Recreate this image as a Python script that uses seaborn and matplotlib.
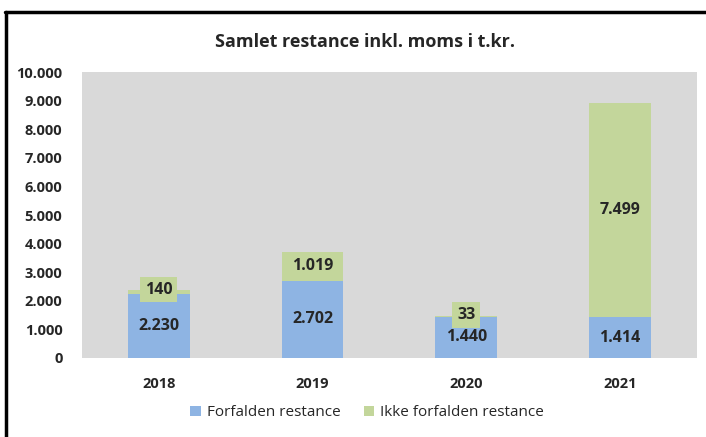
import matplotlib
matplotlib.use("Agg")
import matplotlib.pyplot as plt
import seaborn as sns
import pandas as pd
from matplotlib.lines import Line2D

# data
years = ["2018", "2019", "2020", "2021"]
forfalden = [2230, 2702, 1440, 1414]
ikke_forfalden = [140, 1019, 33, 7499]
yticks = [0, 1000, 2000, 3000, 4000, 5000, 6000, 7000, 8000, 9000, 10000]

blue = "#8eb4e3"
green = "#c3d69b"

def dk(v):
    return f"{v:,}".replace(",", ".")

sns.set_style("white")
plt.rcParams["font.family"] = ["Open Sans", "DejaVu Sans"]

df = pd.DataFrame({"year": years, "forfalden": forfalden, "ikke": ikke_forfalden})
df["total"] = df["forfalden"] + df["ikke"]

fig = plt.figure(figsize=(7.06, 4.37), dpi=100)
ax = fig.add_axes([0.116, 0.181, 0.871, 0.654])
ax.set_facecolor("#d9d9d9")

sns.barplot(data=df, x="year", y="total", color=green, width=0.4, ax=ax,
            saturation=1, edgecolor="none", label="Ikke forfalden restance")
sns.barplot(data=df, x="year", y="forfalden", color=blue, width=0.4, ax=ax,
            saturation=1, edgecolor="none", label="Forfalden restance")

# data labels
for i, r in df.iterrows():
    ax.text(i, r["forfalden"] / 2, dk(r["forfalden"]), ha="center", va="center",
            fontsize=11.5, fontweight="bold")
    if r["ikke"] > 500:
        ax.text(i, r["forfalden"] + r["ikke"] / 2, dk(r["ikke"]), ha="center",
                va="center", fontsize=11.5, fontweight="bold")
    else:
        ax.text(i, r["total"] + 20, dk(r["ikke"]), ha="center", va="center",
                fontsize=11.5, fontweight="bold",
                bbox=dict(boxstyle="square,pad=0.3", fc=green, ec="none"))

ax.set_ylim(0, 10000)
ax.set_xlim(-0.5, 3.5)
ax.set_yticks(yticks)
ax.set_yticklabels([dk(v) for v in yticks], fontsize=10.5, fontweight="bold")
ax.tick_params(axis="x", labelsize=10.5, pad=14)
for t in ax.get_xticklabels():
    t.set_fontweight("bold")
ax.tick_params(axis="y", pad=14)
ax.tick_params(length=0)
ax.set_xlabel("")
ax.set_ylabel("")
sns.despine(ax=ax, left=True, bottom=True)

h, l = ax.get_legend_handles_labels()
if ax.get_legend() is not None:
    ax.get_legend().remove()
fig.legend(h[::-1], l[::-1], loc="center", bbox_to_anchor=(0.52, 0.055), ncol=2,
           frameon=False, fontsize=11, handlelength=0.7, handleheight=0.7,
           columnspacing=1.5, handletextpad=0.4)

fig.text(0.517, 0.905, "Samlet restance inkl. moms i t.kr.", ha="center", va="center",
         fontsize=13, fontweight="bold")

# chart frame (left and top edges)
fig.add_artist(Line2D([0.008, 0.008], [0.0, 0.972], color="black", lw=2.5))
fig.add_artist(Line2D([0.007, 1.0], [0.972, 0.972], color="black", lw=2.5))

fig.savefig("out.png", dpi=100)
